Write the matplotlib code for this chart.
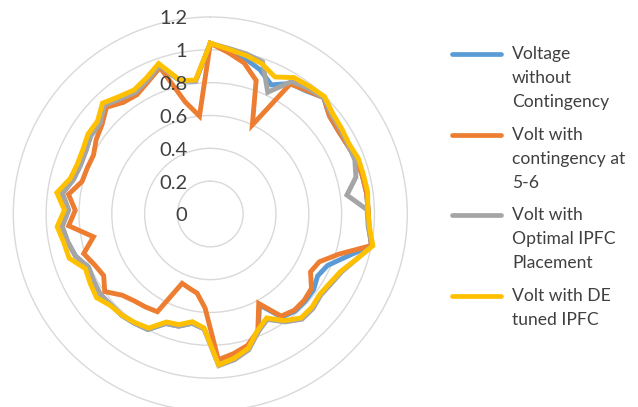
import numpy as np
import matplotlib.pyplot as plt
from matplotlib import transforms
from matplotlib.lines import Line2D

plt.rcParams['font.family'] = ['Lato', 'DejaVu Sans']

# bus voltages (p.u.) for buses 1..57
v_base = [1.04, 1.00, 0.97, 0.93, 0.87, 0.933, 0.95, 0.99, 0.94, 0.93,
          0.935, 0.95, 0.955, 0.96, 0.962, 0.97, 1.00, 0.87, 0.78, 0.755,
          0.78, 0.785, 0.785, 0.765, 0.63, 0.775, 0.84, 0.875, 0.90, 0.70,
          0.675, 0.71, 0.72, 0.80, 0.81, 0.82, 0.82, 0.83, 0.82, 0.81,
          0.86, 0.885, 0.906, 0.864, 0.91, 0.86, 0.845, 0.85, 0.87, 0.87,
          0.925, 0.89, 0.87, 0.90, 0.955, 0.83, 0.815]
v_cont = [1.04, 0.99, 0.943, 0.86, 0.60, 0.93, 0.955, 0.99, 0.94, 0.93,
          0.935, 0.95, 0.955, 0.96, 0.962, 0.97, 1.00, 0.82, 0.725, 0.705,
          0.765, 0.777, 0.778, 0.757, 0.62, 0.769, 0.832, 0.862, 0.889, 0.574,
          0.489, 0.47, 0.456, 0.677, 0.69, 0.703, 0.73, 0.798, 0.75, 0.77,
          0.808, 0.725, 0.866, 0.823, 0.872, 0.806, 0.80, 0.797, 0.83, 0.855,
          0.907, 0.862, 0.853, 0.89, 0.944, 0.70, 0.60]
v_ipfc = [1.04, 1.015, 1.00, 0.98, 0.82, 0.948, 0.97, 0.99, 0.955, 0.945,
          0.94, 0.94, 0.915, 0.84, 0.955, 0.965, 1.005, 0.93, 0.875, 0.85,
          0.835, 0.85, 0.85, 0.80, 0.73, 0.775, 0.86, 0.90, 0.925, 0.70,
          0.675, 0.71, 0.72, 0.80, 0.81, 0.82, 0.82, 0.83, 0.82, 0.81,
          0.86, 0.885, 0.906, 0.864, 0.91, 0.86, 0.845, 0.85, 0.87, 0.87,
          0.925, 0.89, 0.87, 0.90, 0.955, 0.83, 0.815]
v_de = [1.04, 1.01, 0.99, 0.968, 0.923, 0.975, 0.985, 0.998, 0.965, 0.955,
        0.947, 0.963, 0.963, 0.968, 0.96, 0.973, 1.009, 0.93, 0.868, 0.841,
        0.827, 0.84, 0.84, 0.79, 0.72, 0.765, 0.85, 0.89, 0.92, 0.695,
        0.665, 0.70, 0.71, 0.79, 0.805, 0.818, 0.825, 0.86, 0.845, 0.83,
        0.901, 0.909, 0.936, 0.889, 0.944, 0.88, 0.865, 0.87, 0.89, 0.89,
        0.942, 0.906, 0.887, 0.915, 0.969, 0.833, 0.821]

labels = [['Voltage', 'without', 'Contingency'],
          ['Volt with', 'contingency at', '5-6'],
          ['Volt with', 'Optimal IPFC', 'Placement'],
          ['Volt with DE', 'tuned IPFC']]
colors = ['#5b9bd5', '#ed7d31', '#a5a5a5', '#ffc000']
series = [v_base, v_cont, v_ipfc, v_de]
rings = [0, 0.2, 0.4, 0.6, 0.8, 1.0, 1.2]

W, H = 638, 407
fig = plt.figure(figsize=(W / 100, H / 100), dpi=100)

cx, cy, R = 210.3, 214, 197
ax = fig.add_axes([(cx - R) / W, (H - cy - R) / H, 2 * R / W, 2 * R / H],
                  projection='polar')
ax.set_theta_zero_location('N')
ax.set_theta_direction(-1)
ax.set_ylim(0, 1.2)
ax.set_xticks([])
ax.set_yticks(rings[1:-1])
ax.set_yticklabels([])
ax.grid(True, color='#d9d9d9', lw=1)
ax.spines['polar'].set_color('#d9d9d9')
ax.spines['polar'].set_linewidth(1)
ax.set_facecolor('none')

n = len(v_de)
theta = np.linspace(0, 2 * np.pi, n, endpoint=False)
theta = np.append(theta, theta[0])
for vals, c in zip(series, colors):
    ax.plot(theta, vals + vals[:1], color=c, lw=3.5, solid_joinstyle='miter', zorder=3)

# radial value labels to the left of the top spoke
off = transforms.offset_copy(ax.transData, fig=fig, x=-23, y=-2, units='dots')
for r in rings:
    ax.text(0, r, f'{r:g}', transform=off, ha='right', va='center',
            fontsize=14.5, color='#404040', clip_on=False)

# legend
first_rows = [54, 135, 215, 296]
for lines, c, y0 in zip(labels, colors, first_rows):
    fig.add_artist(Line2D([452 / W, 501 / W], [1 - y0 / H, 1 - y0 / H],
                          color=c, lw=3.4, solid_capstyle='round'))
    for i, t in enumerate(lines):
        fig.text(512 / W, 1 - (y0 + 24 * i) / H, t, ha='left', va='center',
                 fontsize=12.6, color='#404040')

fig.savefig('out.png', dpi=100)
